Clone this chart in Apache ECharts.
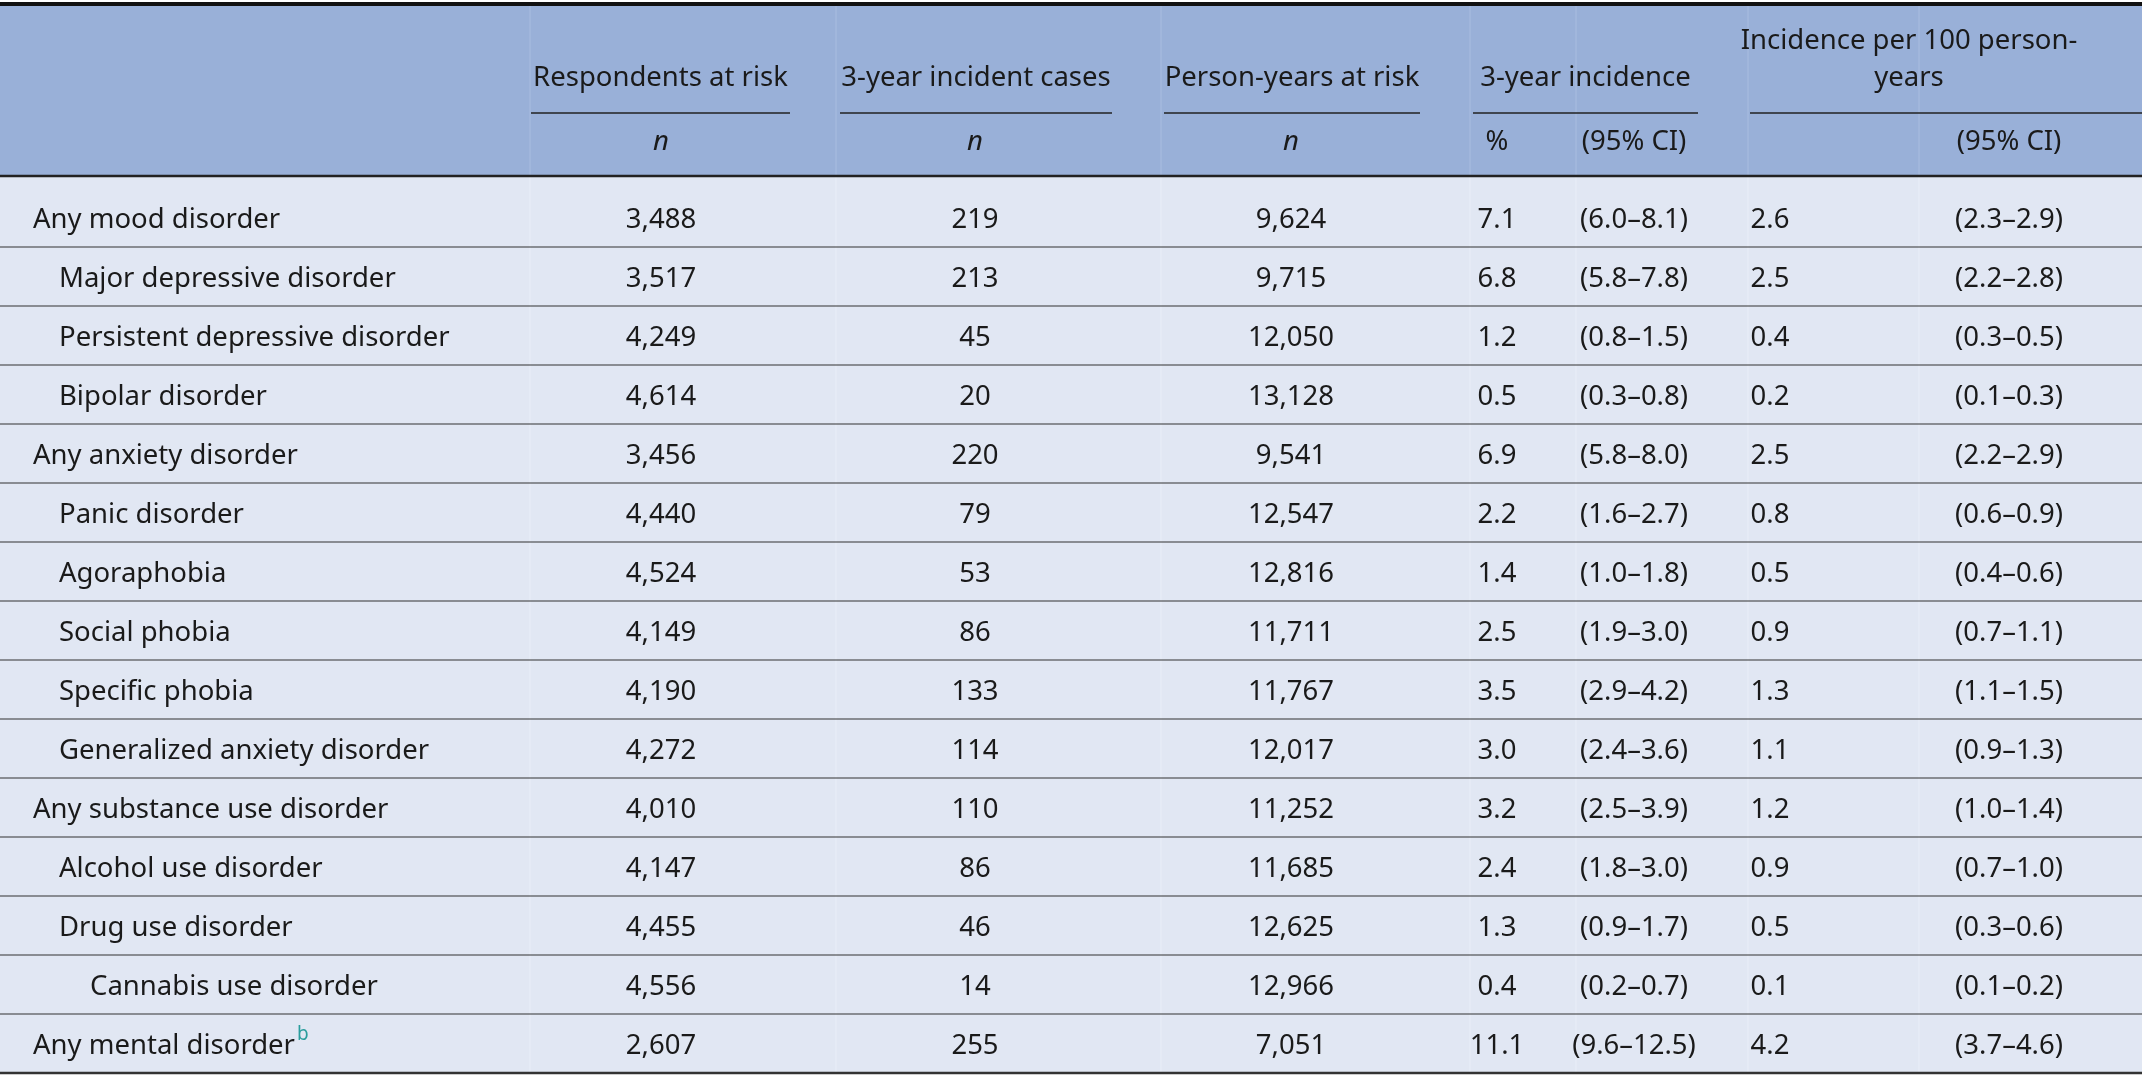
<!DOCTYPE html>
<html><head><meta charset="utf-8">
<script src="https://cdn.jsdelivr.net/npm/echarts@6/dist/echarts.min.js"></script>
<style>html,body{margin:0;padding:0;background:#fff}#chart{width:2142px;height:1081px}</style>
</head><body><div id="chart"></div>
<script>
// table data
const labels = ['Any mood disorder','Major depressive disorder','Persistent depressive disorder','Bipolar disorder',
  'Any anxiety disorder','Panic disorder','Agoraphobia','Social phobia','Specific phobia','Generalized anxiety disorder',
  'Any substance use disorder','Alcohol use disorder','Drug use disorder','Cannabis use disorder','Any mental disorder'];
const indent = [0,1,1,1,0,1,1,1,1,1,0,1,1,2,0];
const atRisk = ['3,488','3,517','4,249','4,614','3,456','4,440','4,524','4,149','4,190','4,272','4,010','4,147','4,455','4,556','2,607'];
const cases = ['219','213','45','20','220','79','53','86','133','114','110','86','46','14','255'];
const personYears = ['9,624','9,715','12,050','13,128','9,541','12,547','12,816','11,711','11,767','12,017','11,252','11,685','12,625','12,966','7,051'];
const incPct = ['7.1','6.8','1.2','0.5','6.9','2.2','1.4','2.5','3.5','3.0','3.2','2.4','1.3','0.4','11.1'];
const incCI = ['(6.0–8.1)','(5.8–7.8)','(0.8–1.5)','(0.3–0.8)','(5.8–8.0)','(1.6–2.7)','(1.0–1.8)','(1.9–3.0)','(2.9–4.2)','(2.4–3.6)','(2.5–3.9)','(1.8–3.0)','(0.9–1.7)','(0.2–0.7)','(9.6–12.5)'];
const rate = ['2.6','2.5','0.4','0.2','2.5','0.8','0.5','0.9','1.3','1.1','1.2','0.9','0.5','0.1','4.2'];
const rateCI = ['(2.3–2.9)','(2.2–2.8)','(0.3–0.5)','(0.1–0.3)','(2.2–2.9)','(0.6–0.9)','(0.4–0.6)','(0.7–1.1)','(1.1–1.5)','(0.9–1.3)','(1.0–1.4)','(0.7–1.0)','(0.3–0.6)','(0.1–0.2)','(3.7–4.6)'];
const groupTitles = ['Respondents at risk','3-year incident cases','Person-years at risk','3-year incidence','Incidence per 100 person-\nyears'];
const subTitles = ['n','n','n','%','(95% CI)','','(95% CI)'];

const W = 2142, font = '"Noto Sans", sans-serif', fs = 27.5;
const colX = [661, 975, 1291, 1497, 1634, 1770, 2009];
const groupSpan = [[531,790],[840,1112],[1164,1420],[1473,1698],[1750,2142]];
const seps = [530, 836, 1161, 1470, 1576, 1748, 1919];
const headTop = 4, headBot = 176, firstRowBot = 247, rowH = 59;
const rowBottom = i => i === 0 ? firstRowBot : firstRowBot + i * rowH;

const g = [];
const txt = (x, y, s, o) => g.push({type:'text', x, y, style:Object.assign({text:s, font:fs+'px '+font, fill:'#1a1a1a', textAlign:'center', textVerticalAlign:'middle'}, o||{})});
const line = (x1, y1, x2, y2, w, c) => g.push({type:'line', shape:{x1,y1,x2,y2}, style:{stroke:c||'#222', lineWidth:w}});

const lastBot = rowBottom(labels.length - 1);
g.push({type:'rect', shape:{x:0,y:headTop,width:W,height:headBot-headTop}, style:{fill:'#99b0d8'}});
g.push({type:'rect', shape:{x:0,y:headBot,width:W,height:lastBot-headBot}, style:{fill:'#e1e7f3'}});
seps.forEach(x => { line(x, headTop, x, headBot, 1, '#a9bde0'); line(x, headBot, x, lastBot, 1, '#e9eef8'); });

groupTitles.forEach((t, i) => {
  const cx = (groupSpan[i][0] + groupSpan[i][1]) / 2;
  const multi = t.indexOf('\n') >= 0;
  g.push({type:'text', x: i === 4 ? 1909 : cx, y: multi ? 60 : 78, style:{text:t, font:fs+'px '+font, fill:'#1a1a1a', textAlign:'center', textVerticalAlign:'middle', lineHeight:37}});
  line(groupSpan[i][0], 113, groupSpan[i][1], 113, 1.5);
});
subTitles.forEach((t, i) => { if (t) txt(colX[i], 142, t, {font:(t === 'n' ? 'italic ' : '') + fs + 'px ' + font}); });

line(0, headTop, W, headTop, 4, '#111');
line(0, headBot, W, headBot, 2.5, '#222');

const cols = [atRisk, cases, personYears, incPct, incCI, rate, rateCI];
labels.forEach((lab, i) => {
  const y = rowBottom(i) - 27;
  const lx = [33, 59, 90][indent[i]];
  txt(lx, y, lab, {textAlign:'left'});
  if (i === labels.length - 1) txt(lx + 264, y - 11, 'b', {textAlign:'left', font:'19px ' + font, fill:'#2a9d9d'});
  cols.forEach((c, j) => txt(colX[j], y, c[i]));
  line(0, rowBottom(i), W, rowBottom(i), i === labels.length - 1 ? 2.5 : 1.2, '#333');
});

const chart = echarts.init(document.getElementById('chart'));
chart.setOption({ animation:false, graphic:{elements:g} });
</script></body></html>
